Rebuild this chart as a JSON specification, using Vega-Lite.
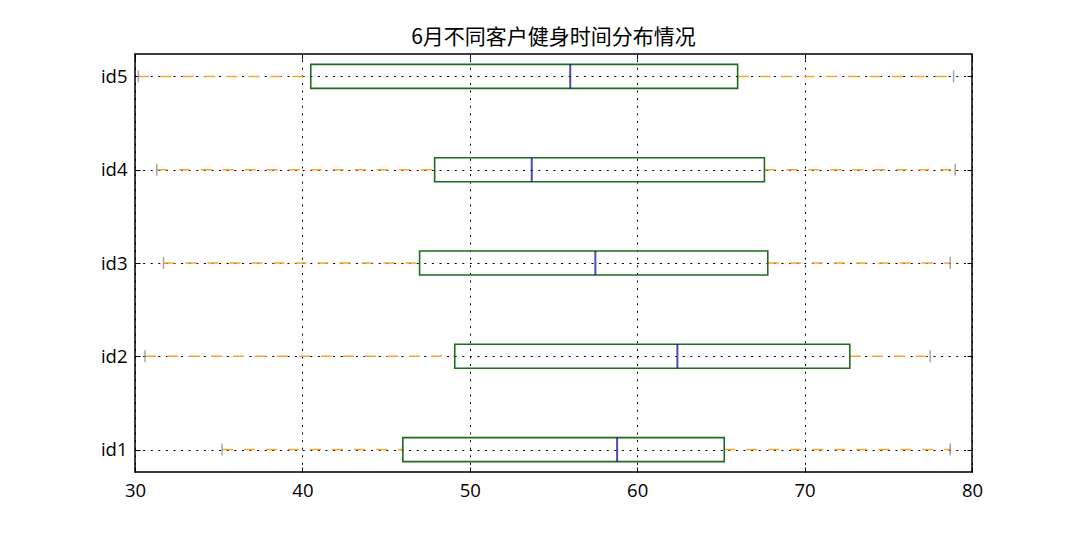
{
  "$schema": "https://vega.github.io/schema/vega-lite/v6.json",
  "title": {"text": "6月不同客户健身时间分布情况", "anchor": "middle", "fontSize": 21, "font": "Noto Sans CJK SC", "fontWeight": "normal", "color": "#000", "offset": 6},
  "background": "white",
  "autosize": {"type": "none"},
  "padding": {"left": 135, "top": 54, "right": 108, "bottom": 68},
  "width": 837,
  "height": 418,
  "config": {
    "view": {"stroke": "#000", "strokeWidth": 1.5},
    "axis": {
      "domain": false,
      "labelFont": "Open Sans",
      "labelFontSize": 18.5,
      "labelColor": "#000",
      "labelFlush": false,
      "tickColor": "#000",
      "tickWidth": 1,
      "tickSize": -5,
      "gridColor": "#000",
      "gridDash": [2, 5.6],
      "gridWidth": 1,
      "title": null
    }
  },
  "data": {
    "values": [
      {"id": "id1", "min": 35.2, "q1": 46.0, "median": 58.8, "q3": 65.2, "max": 78.7},
      {"id": "id2", "min": 30.6, "q1": 49.1, "median": 62.4, "q3": 72.7, "max": 77.5},
      {"id": "id3", "min": 31.7, "q1": 47.0, "median": 57.5, "q3": 67.8, "max": 78.7},
      {"id": "id4", "min": 31.3, "q1": 47.9, "median": 53.7, "q3": 67.6, "max": 79.0},
      {"id": "id5", "min": 30.2, "q1": 40.5, "median": 56.0, "q3": 66.0, "max": 78.9}
    ]
  },
  "encoding": {
    "y": {
      "field": "id", "type": "nominal",
      "scale": {"type": "point", "domain": ["id5", "id4", "id3", "id2", "id1"], "padding": 0.24}
    }
  },
  "layer": [
    {
      "mark": {"type": "rule", "color": "#f5a630", "strokeWidth": 1.5, "strokeDash": [11, 11]},
      "encoding": {
        "x": {"field": "min", "type": "quantitative", "scale": {"domain": [30, 80], "nice": false, "zero": false},
              "axis": {"orient": "bottom", "values": [30, 40, 50, 60, 70, 80], "grid": true, "labelPadding": 14}},
        "x2": {"field": "q1"},
        "y": {"field": "id", "type": "nominal", "axis": {"orient": "left", "grid": true, "labelPadding": 13}}
      }
    },
    {
      "mark": {"type": "rule", "color": "#f5a630", "strokeWidth": 1.5, "strokeDash": [11, 11]},
      "encoding": {
        "x": {"field": "q3", "type": "quantitative",
              "axis": {"orient": "top", "values": [30, 40, 50, 60, 70, 80], "grid": false, "labels": false}},
        "x2": {"field": "max"},
        "y": {"field": "id", "type": "nominal", "axis": {"orient": "right", "grid": false, "labels": false}}
      }
    },
    {
      "mark": {"type": "bar", "size": 24, "fillOpacity": 0, "stroke": "#1f6b1f", "strokeWidth": 1.6},
      "encoding": {
        "x": {"field": "q1", "type": "quantitative", "axis": null},
        "x2": {"field": "q3"},
        "y": {"field": "id", "type": "nominal", "axis": null}
      }
    },
    {
      "mark": {"type": "tick", "color": "#00008b", "size": 24, "thickness": 2},
      "encoding": {
        "x": {"field": "median", "type": "quantitative", "axis": null},
        "y": {"field": "id", "type": "nominal", "axis": null}
      }
    },
    {
      "mark": {"type": "tick", "color": "#808080", "size": 12, "thickness": 1.5},
      "encoding": {
        "x": {"field": "min", "type": "quantitative", "axis": null},
        "y": {"field": "id", "type": "nominal", "axis": null}
      }
    },
    {
      "mark": {"type": "tick", "color": "#808080", "size": 12, "thickness": 1.5},
      "encoding": {
        "x": {"field": "max", "type": "quantitative", "axis": null},
        "y": {"field": "id", "type": "nominal", "axis": null}
      }
    }
  ],
  "resolve": {"axis": {"x": "independent", "y": "independent"}}
}
